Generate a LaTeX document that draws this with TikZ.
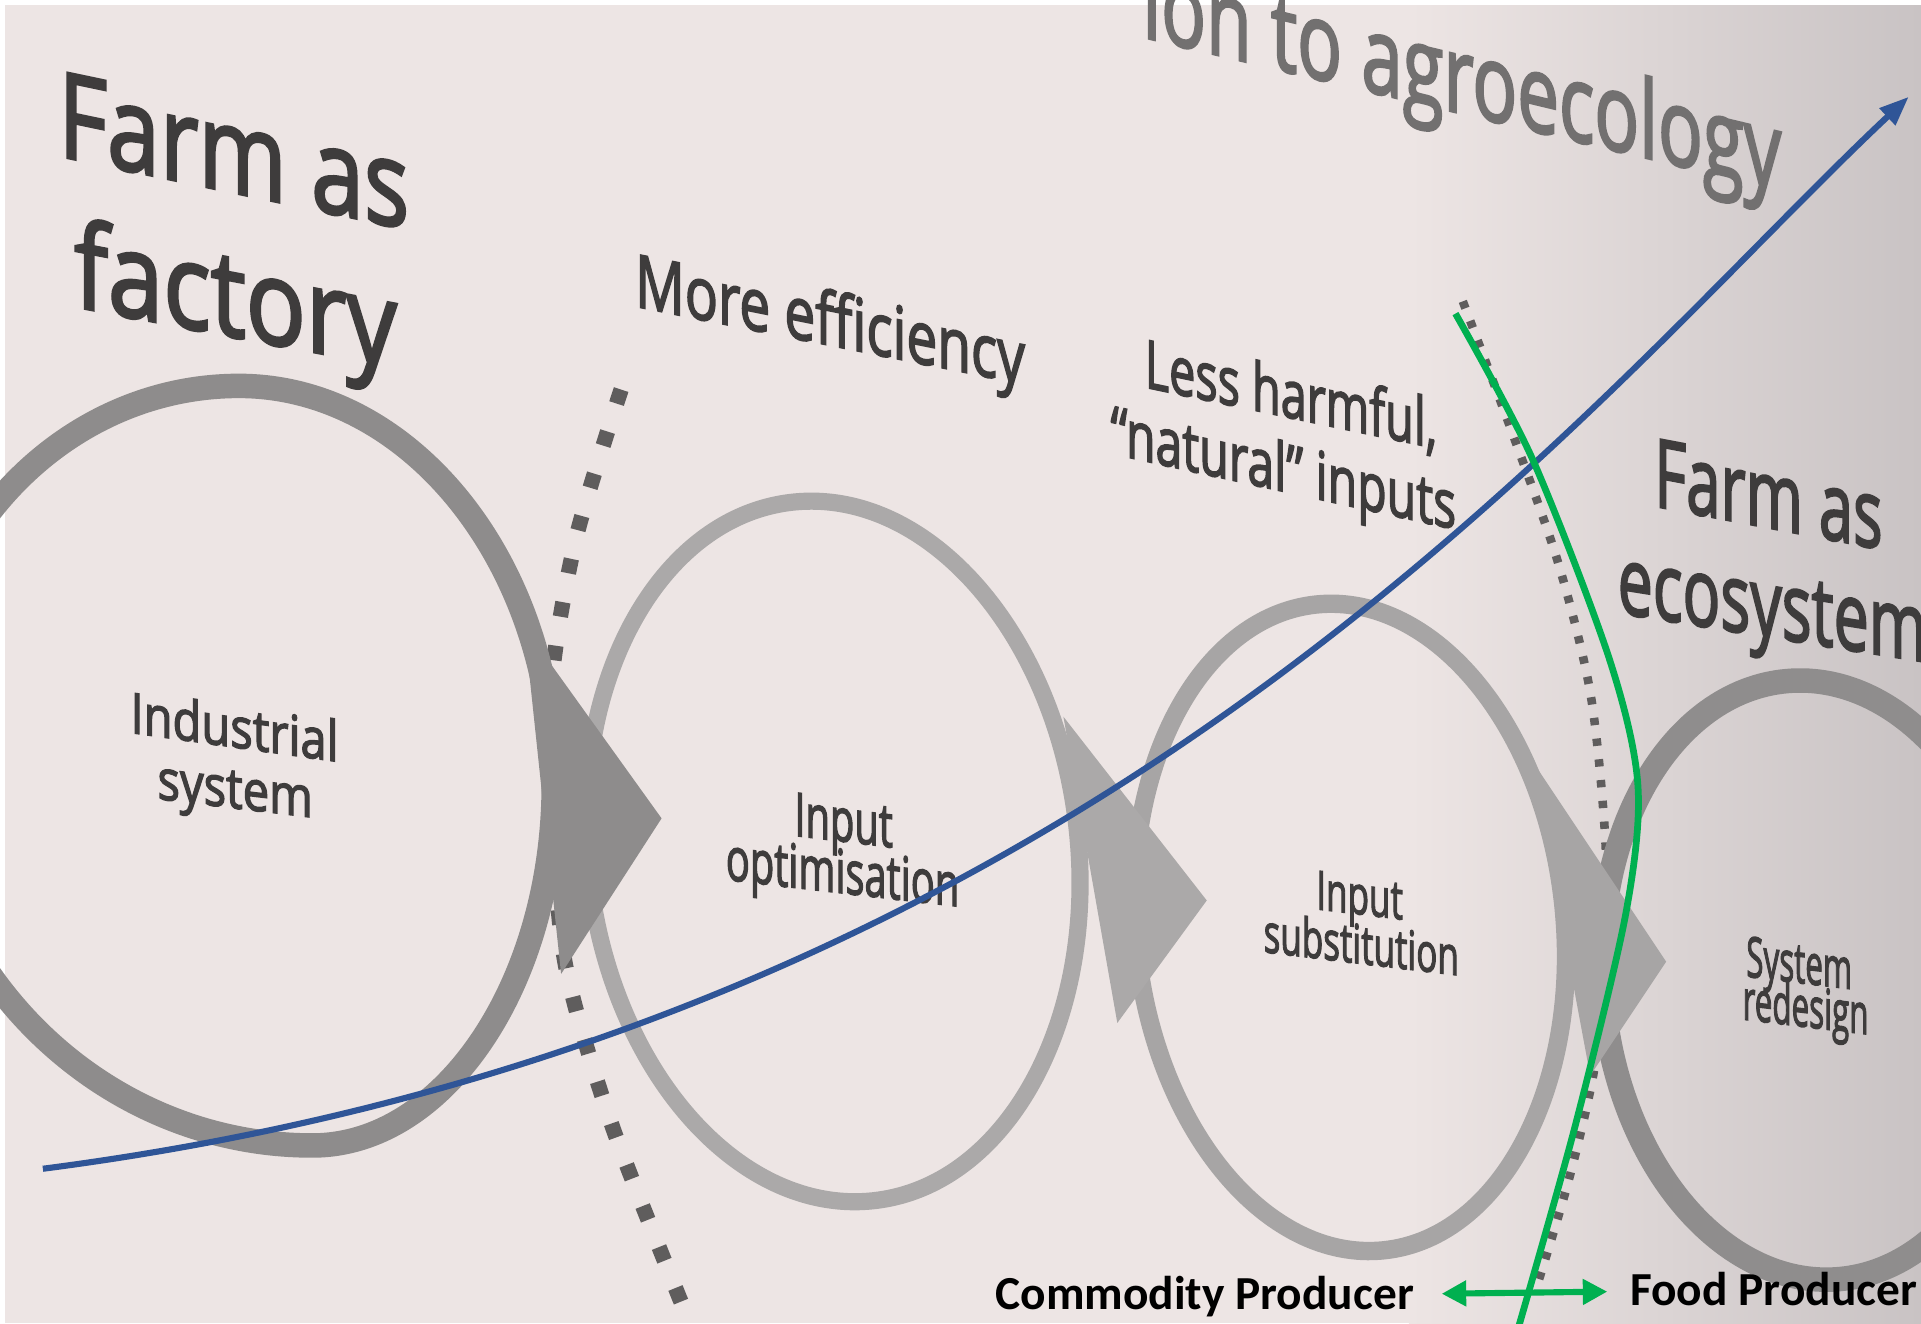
\documentclass[tikz,border=0pt]{standalone}
\usepackage{fontspec}
\newfontfamily\slidefont[FakeBold=2.6]{Open Sans}
\newfontfamily\producerfont{Carlito}
\usetikzlibrary{positioning,arrows.meta}
\definecolor{slidebg}{HTML}{EDE5E4}
\definecolor{slideshadow}{HTML}{C9C3C4}
\definecolor{slidedark}{HTML}{3E3C3C}
\definecolor{titlegray}{HTML}{727070}
\definecolor{ringone}{HTML}{8E8C8C}
\definecolor{ringtwo}{HTML}{ABA9A9}
\definecolor{ringthree}{HTML}{A7A5A5}
\definecolor{ringfour}{HTML}{8F8D8D}
\definecolor{dotgray}{HTML}{5F5D5D}
\definecolor{trendblue}{HTML}{2F5597}
\definecolor{dividergreen}{HTML}{00B050}
\tikzset{
  slide text/.style={text=slidedark, inner sep=0pt, anchor=base west},
  lettering/.style n args={3}{slide text, font={\slidefont\fontsize{#1}{#1}\selectfont}, yslant=#2, xscale=#3},
  ring/.style={draw=#1, line width=1.5mm},
  coarse dots/.style={draw=dotgray, line width=1.25mm, dash pattern=on 1.2mm off 2.4mm},
  fine dots/.style={draw=dotgray, line width=0.7mm, dash pattern=on 0.6mm off 1.1mm},
  trend/.style={draw=trendblue, line width=0.5mm, -{Triangle[length=2.4mm,width=1.8mm]}},
  divider/.style={draw=dividergreen, line width=0.55mm},
  producer/.style={font={\producerfont\bfseries\fontsize{11}{13}\selectfont}, text=black, inner sep=0pt, anchor=base west},
  producer arrow/.style={draw=dividergreen, line width=0.5mm, {Triangle[length=2mm,width=2mm]}-{Triangle[length=2mm,width=2mm]}},
}
\begin{document}
\begin{tikzpicture}[x=0.01cm,y=-0.01cm]
\useasboundingbox (0,0) rectangle (1568,1080);
\clip (0,0) rectangle (1568,1080);
% the photographed slide
\fill[slidebg] (0,0) rectangle (1568,1080);
\shade[left color=slidebg, right color=slideshadow] (1150,0) rectangle (1568,1080);
\fill[white] (0,0) rectangle (1568,4);
\fill[white] (0,0) rectangle (4,1080);

% dotted boundaries
\draw[coarse dots] plot[smooth] coordinates {(507,318) (470,440) (450,560) (452,680) (462,790) (500,920) (565,1085)};
\draw[fine dots] plot[smooth] coordinates {(1194,246) (1235,355) (1272,460) (1298,565) (1310,680) (1312,790) (1300,880) (1280,965) (1256,1045)};

% rings, back to front
\draw[ring=ringfour, line width=2mm, rotate around={5:(1480,800)}] (1480,800) ellipse [x radius=172, y radius=245];
\draw[ring=ringthree, rotate around={6:(1102,757)}] (1102,757) ellipse [x radius=175, y radius=265];
\fill[ringthree] (1250,620) -- (1360,785) -- (1298,878) -- cycle;
\draw[ring=ringtwo, line width=1.4mm, rotate around={7:(680,695)}] (680,695) ellipse [x radius=200, y radius=287];
\fill[ringtwo] (868,585) -- (985,735) -- (912,835) -- cycle;
\draw[ring=ringone, line width=2mm] (195,315) .. controls (336,315) and (452,461) .. (452,640) .. controls (452,802) and (363,935) .. (255,935) .. controls (76,935) and (-70,784) .. (-70,600) .. controls (-70,443) and (49,315) .. cycle;
\fill[ringone] (428,512) -- (540,668) -- (458,795) -- cycle;

% slide texts
\node[lettering={25}{-0.24}{0.69}, text=titlegray] (title) at (932,30) {ion to agroecology};
\node[lettering={27.5}{-0.21}{0.80}] (factory top) at (47,127) {Farm as};
\node[lettering={27.5}{-0.19}{0.84}] (factory bottom) at (60,250) {factory};
\node[lettering={17}{-0.20}{0.75}] (efficiency) at (518,250) {More efficiency};
\node[lettering={15.5}{-0.21}{0.70}] (harmful) at (934,316) {Less harmful,};
\node[lettering={15.5}{-0.22}{0.72}] (natural) at (906,370) {“natural” inputs};
\node[lettering={22}{-0.19}{0.65}] (ecosystem top) at (1350,413) {Farm as};
\node[lettering={22}{-0.16}{0.66}] (ecosystem bottom) at (1320,500) {ecosystem};

\node[lettering={13}{-0.14}{0.84}] (industrial) at (106,598) {Industrial};
\node[lettering={13}{-0.12}{0.84}] (industrial sys) at (128,652) {system};
\node[lettering={14}{-0.12}{0.66}] (optim top) at (648,682) {Input};
\node[lettering={14}{-0.115}{0.66}] (optim bottom) at (592,718) {optimisation};
\node[lettering={12.5}{-0.12}{0.65}] (subst top) at (1074,742) {Input};
\node[lettering={12.5}{-0.12}{0.65}] (subst bottom) at (1031,777) {substitution};
\node[lettering={13}{-0.12}{0.56}] (redesign top) at (1425,797) {System};
\node[lettering={13}{-0.12}{0.56}] (redesign bottom) at (1422,832) {redesign};

% overlays
\coordinate (trend start) at (35,954);
\coordinate (trend end) at (1558,79);
\draw[trend] (trend start) .. controls (900,842) and (1300,321) .. (trend end);
\draw[divider] plot[smooth] coordinates {(1188,256) (1251,375) (1314,539) (1337,642) (1327,746) (1286,918) (1239,1085)};

\node[producer] (commodity) at (812,1069) {Commodity Producer};
\node[producer] (food) at (1330,1066) {Food Producer};
\draw[producer arrow, shorten <=2.2mm, shorten >=1.8mm] (commodity) -- (food);
\end{tikzpicture}
\end{document}
